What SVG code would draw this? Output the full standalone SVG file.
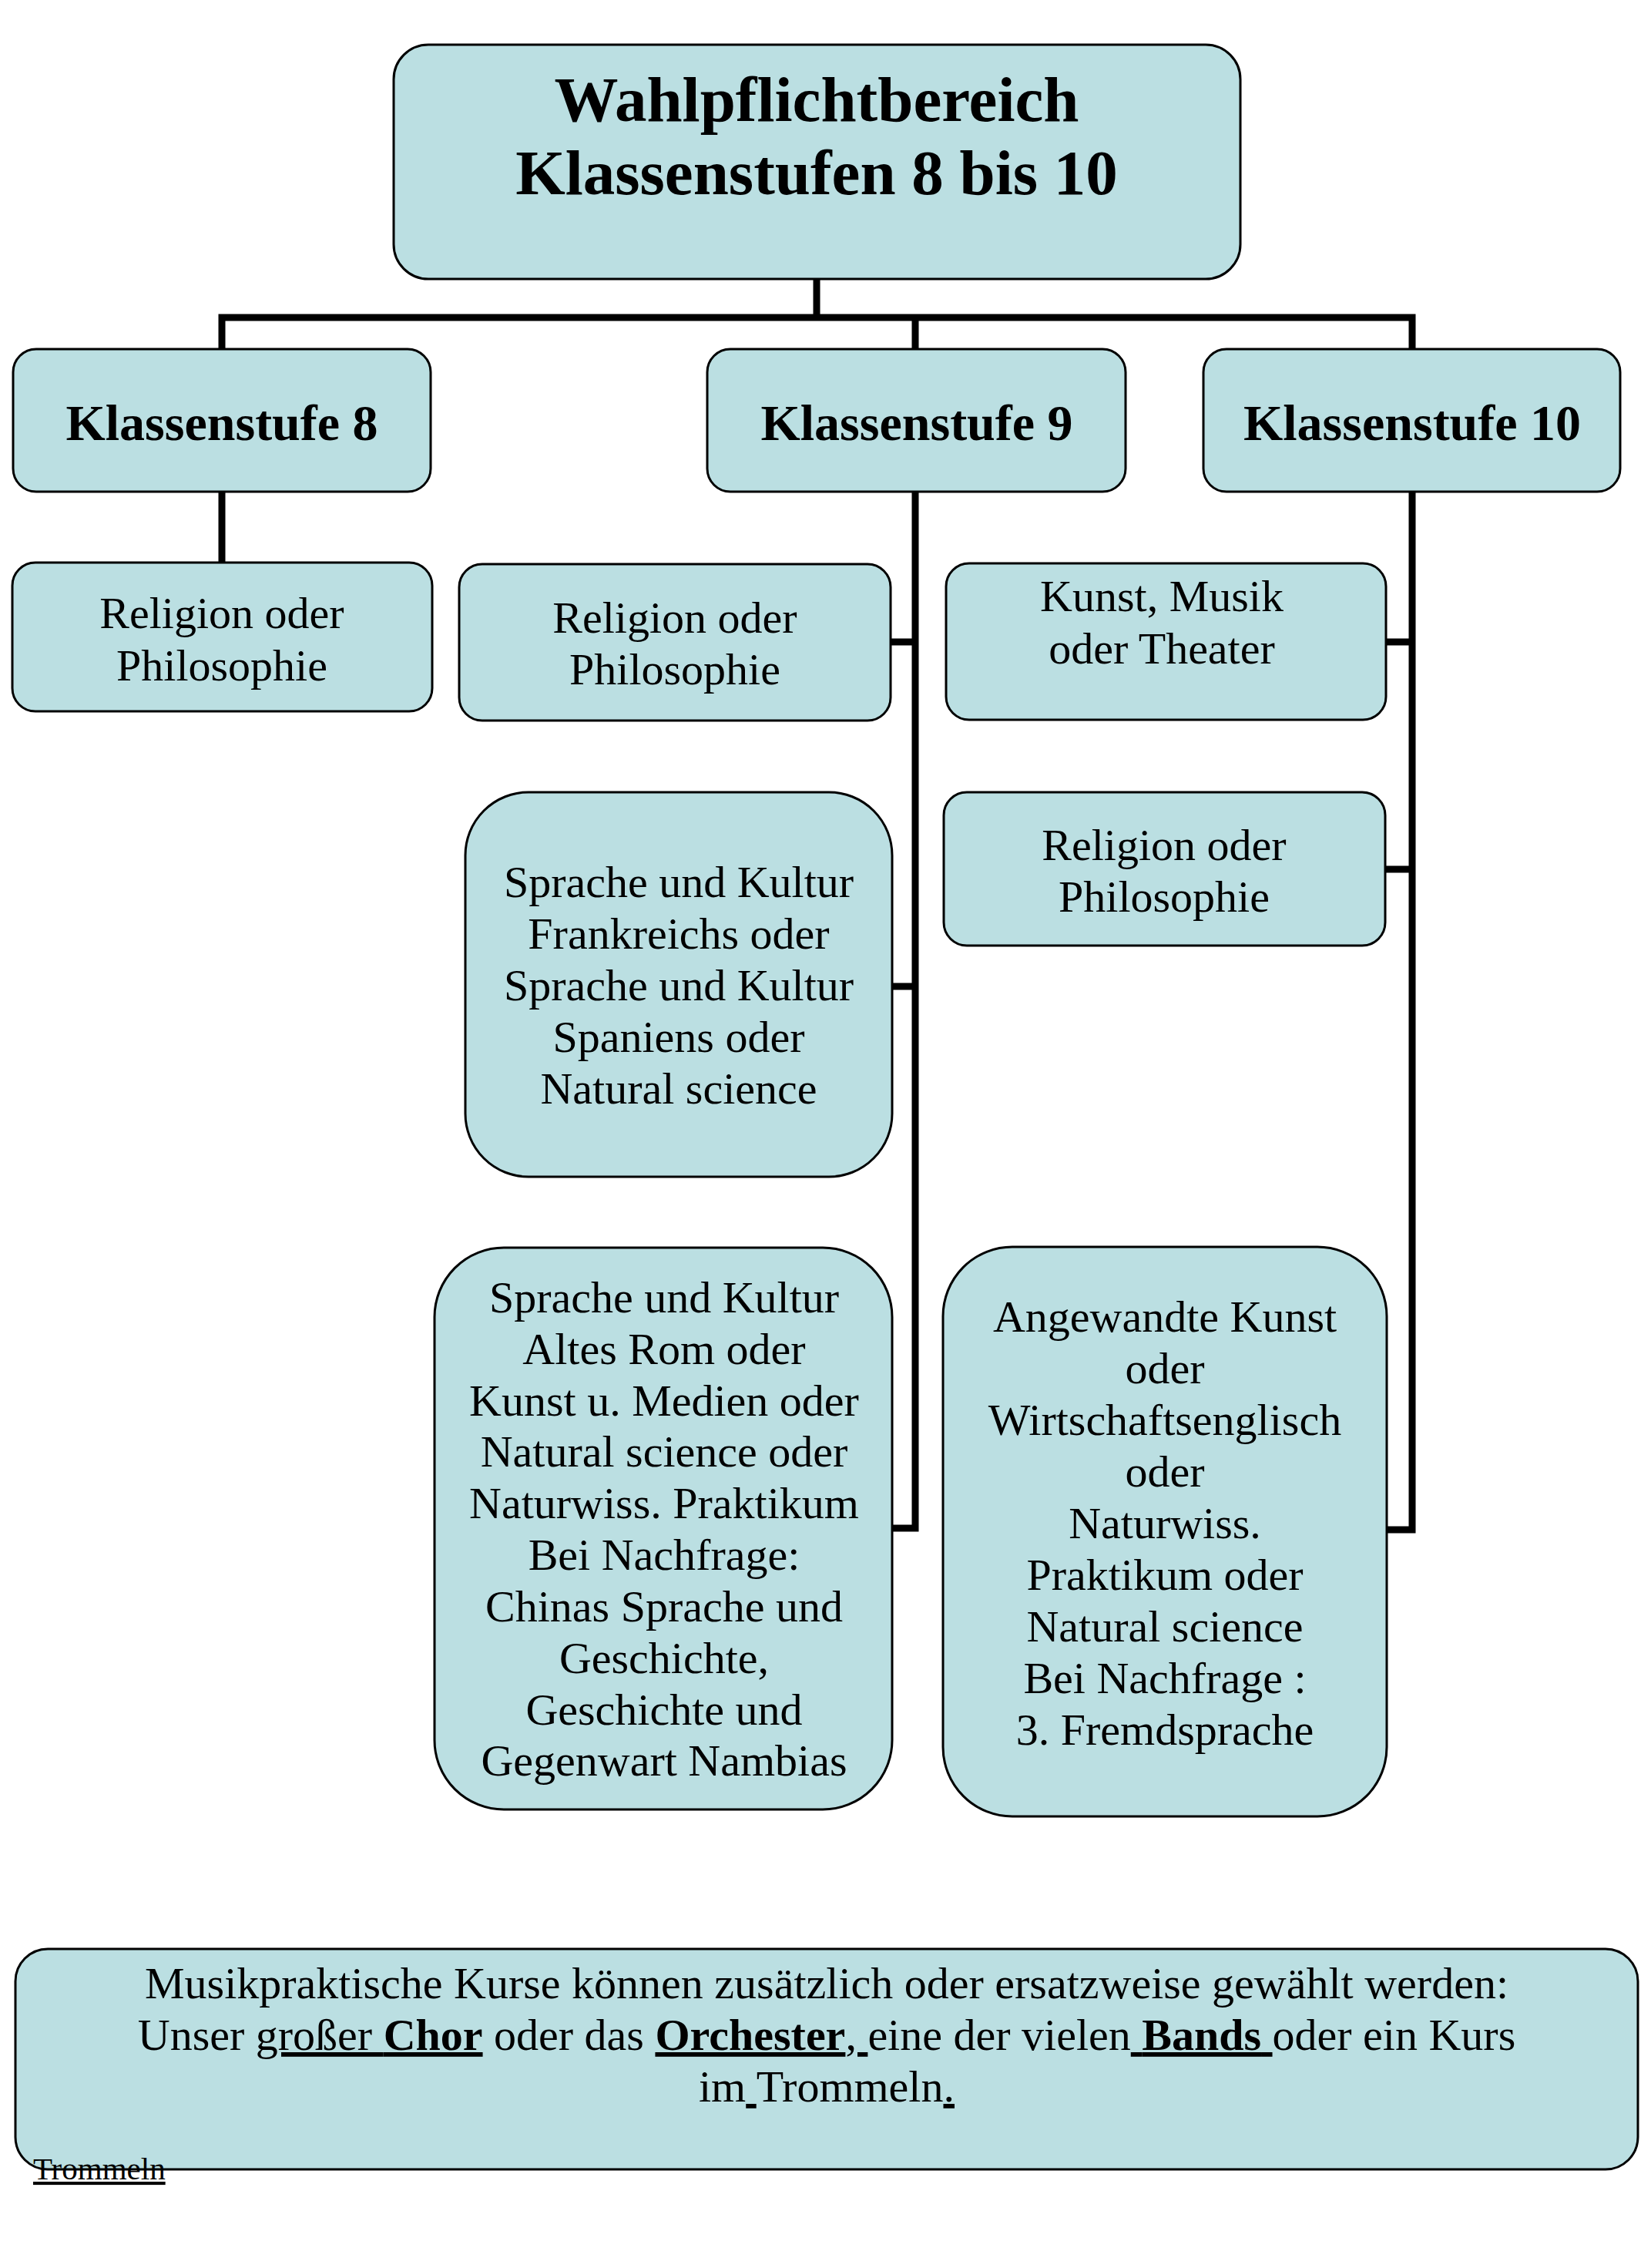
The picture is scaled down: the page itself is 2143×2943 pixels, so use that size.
<svg xmlns="http://www.w3.org/2000/svg" width="2143" height="2943" viewBox="0 0 2143 2943">
<style>
.box{fill:#BBDFE2;stroke:#000;stroke-width:3}
.conn{stroke:#000;stroke-width:9;fill:none;stroke-linejoin:miter}
text{font-family:"Liberation Serif","Times New Roman",serif;fill:#000}
.t{font-size:58px;text-anchor:middle}
.h{font-size:66px;font-weight:bold;text-anchor:middle}
.title{font-size:83px;font-weight:bold;text-anchor:middle}
.b{font-weight:bold}
.u{text-decoration:underline}
</style>
<rect width="2143" height="2943" fill="#fff"/>
<g id="connectors">
<path class="conn" d="M1060 362 V412 M288 454 V412 H1833 V454 M1188 412 V454"/>
<path class="conn" d="M288 638 V731"/>
<path class="conn" d="M1188 638 V1983 H1158 M1156 833 H1188 M1158 1280 H1188"/>
<path class="conn" d="M1833 638 V1985 H1800 M1799 833 H1833 M1798 1128 H1833"/>
</g>
<g id="top">
<rect class="box" x="511" y="58" width="1099" height="304" rx="45"/>
<text class="title" x="1060" y="157">Wahlpflichtbereich</text>
<text class="title" x="1060" y="252">Klassenstufen 8 bis 10</text>
</g>
<g id="k8">
<rect class="box" x="17" y="453" width="542" height="185" rx="30"/>
<text class="h" x="288" y="571">Klassenstufe 8</text>
</g>
<g id="k9">
<rect class="box" x="918" y="453" width="543" height="185" rx="30"/>
<text class="h" x="1190" y="571">Klassenstufe 9</text>
</g>
<g id="k10">
<rect class="box" x="1562" y="453" width="541" height="185" rx="30"/>
<text class="h" x="1833" y="571">Klassenstufe 10</text>
</g>
<g id="k8-rel">
<rect class="box" x="16" y="730" width="545" height="193" rx="30"/>
<text class="t" x="288" y="815">Religion oder</text>
<text class="t" x="288" y="883">Philosophie</text>
</g>
<g id="k9-rel">
<rect class="box" x="596" y="732" width="560" height="203" rx="30"/>
<text class="t" x="876" y="821">Religion oder</text>
<text class="t" x="876" y="888">Philosophie</text>
</g>
<g id="k9-sprache">
<rect class="box" x="604" y="1028" width="554" height="499" rx="82"/>
<text class="t" x="881" y="1164">Sprache und Kultur</text>
<text class="t" x="881" y="1231">Frankreichs oder</text>
<text class="t" x="881" y="1298">Sprache und Kultur</text>
<text class="t" x="881" y="1365">Spaniens oder</text>
<text class="t" x="881" y="1432">Natural science</text>
</g>
<g id="k9-rom">
<rect class="box" x="564" y="1619" width="594" height="729" rx="90"/>
<text class="t" x="862" y="1703">Sprache und Kultur</text>
<text class="t" x="862" y="1770">Altes Rom oder</text>
<text class="t" x="862" y="1837">Kunst u. Medien oder</text>
<text class="t" x="862" y="1903">Natural science oder</text>
<text class="t" x="862" y="1970">Naturwiss. Praktikum</text>
<text class="t" x="862" y="2037">Bei Nachfrage:</text>
<text class="t" x="862" y="2104">Chinas Sprache und</text>
<text class="t" x="862" y="2171">Geschichte,</text>
<text class="t" x="862" y="2238">Geschichte und</text>
<text class="t" x="862" y="2304">Gegenwart Nambias</text>
</g>
<g id="k10-kunst">
<rect class="box" x="1228" y="731" width="571" height="203" rx="30"/>
<text class="t" x="1508" y="793">Kunst, Musik</text>
<text class="t" x="1508" y="861">oder Theater</text>
</g>
<g id="k10-rel">
<rect class="box" x="1225" y="1028" width="573" height="199" rx="30"/>
<text class="t" x="1511" y="1116">Religion oder</text>
<text class="t" x="1511" y="1183">Philosophie</text>
</g>
<g id="k10-angewandt">
<rect class="box" x="1224" y="1618" width="576" height="739" rx="90"/>
<text class="t" x="1512" y="1728">Angewandte Kunst</text>
<text class="t" x="1512" y="1795">oder</text>
<text class="t" x="1512" y="1862">Wirtschaftsenglisch</text>
<text class="t" x="1512" y="1929">oder</text>
<text class="t" x="1512" y="1996">Naturwiss.</text>
<text class="t" x="1512" y="2063">Praktikum oder</text>
<text class="t" x="1512" y="2130">Natural science</text>
<text class="t" x="1512" y="2197">Bei Nachfrage :</text>
<text class="t" x="1512" y="2264">3. Fremdsprache</text>
</g>
<g id="musik">
<rect class="box" x="20" y="2529" width="2106" height="286" rx="42"/>
<text class="t" x="1073" y="2593">Musikpraktische Kurse können zusätzlich oder ersatzweise gewählt werden:</text>
<text class="t" x="1073" y="2660" xml:space="preserve">Unser <tspan class="u">großer </tspan><tspan class="u b">Chor</tspan> oder das <tspan class="u b">Orchester</tspan><tspan class="u">, </tspan>eine der vielen<tspan class="u"> </tspan><tspan class="u b">Bands</tspan><tspan class="u"> </tspan>oder ein Kurs</text>
<text class="t" x="1073" y="2727" xml:space="preserve">im<tspan class="u"> </tspan>Trommeln<tspan class="u">.</tspan></text>
<text x="43" y="2828" font-size="41" class="u">Trommeln</text>
</g>
</svg>
